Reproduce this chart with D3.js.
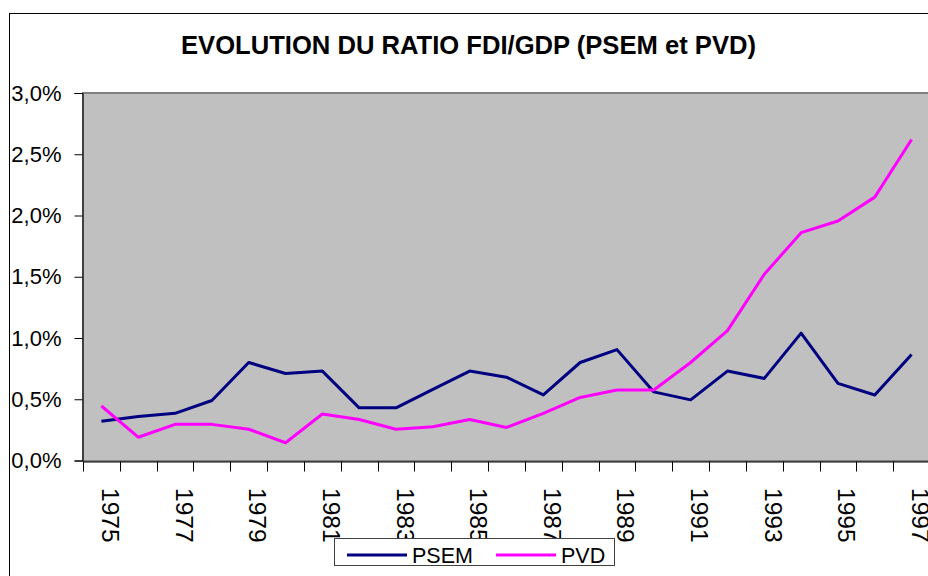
<!DOCTYPE html>
<html>
<head>
<meta charset="utf-8">
<script src="https://cdn.jsdelivr.net/npm/d3@7"></script>
<style>
  body { margin: 0; background: #ffffff; }
  svg { display: block; font-family: Arial, "Liberation Sans", sans-serif; }
</style>
</head>
<body>
<svg id="chart"></svg>
<script>
    'use strict';
    // years shown on the category axis
    var years = ["1975", "1976", "1977", "1978", "1979", "1980", "1981", "1982",
                 "1983", "1984", "1985", "1986", "1987", "1988", "1989", "1990",
                 "1991", "1992", "1993", "1994", "1995", "1996", "1997"];
    // FDI / GDP ratio, in percent
    var psem = [0.32, 0.36, 0.385, 0.49, 0.80, 0.71, 0.73, 0.43, 0.43, 0.58, 0.73, 0.68,
                0.535, 0.80, 0.905, 0.56, 0.495, 0.73, 0.67, 1.04, 0.63, 0.535, 0.865];
    var pvd = [0.445, 0.19, 0.295, 0.295, 0.255, 0.145, 0.38, 0.335, 0.255, 0.275, 0.335, 0.27,
               0.385, 0.515, 0.575, 0.575, 0.80, 1.06, 1.52, 1.86, 1.955, 2.15, 2.62];
    var yTicks = [0, 0.5, 1, 1.5, 2, 2.5, 3];
    var yTickLabels = ["0,0%", "0,5%", "1,0%", "1,5%", "2,0%", "2,5%", "3,0%"];
    var xTickLabels = ["1975", "1977", "1979", "1981", "1983", "1985", "1987",
                       "1989", "1991", "1993", "1995", "1997"];
    var seriesNames = ["PSEM", "PVD"];
    var seriesColors = ["#000080", "#ff00ff"];

    var width = 928;
    var height = 576;
    var plot = {left: 83, top: 93, right: 930, bottom: 461};

    var svg = d3.select("#chart")
            .attr("width", width)
            .attr("height", height);

    // outer chart frame
    svg.append("rect")
        .attr("x", 9.5)
        .attr("y", 13.5)
        .attr("width", 940)
        .attr("height", 600)
        .style("fill", "#ffffff")
        .style("stroke", "#000000")
        .style("stroke-width", 1);

    svg.append("text")
        .attr("x", 468.5)
        .attr("y", 53.5)
        .attr("text-anchor", "middle")
        .style("font-size", "25.6px")
        .style("font-weight", "bold")
        .text("EVOLUTION DU RATIO FDI/GDP (PSEM et PVD)");

    var x = d3.scaleBand()
            .domain(years)
            .range([plot.left, plot.right]);
    var y = d3.scaleLinear()
            .domain([0, 3])
            .range([plot.bottom - 0.5, plot.top]);

    svg.append("rect")
        .attr("x", plot.left)
        .attr("y", plot.top)
        .attr("width", plot.right - plot.left)
        .attr("height", plot.bottom - plot.top)
        .style("fill", "#c0c0c0")
        .style("stroke", "#808080")
        .style("stroke-width", 2);

    // y axis
    var yAxis = d3.axisLeft(y)
            .tickValues(yTicks)
            .tickSize(8)
            .tickPadding(13)
            .tickFormat(function(d, i) { return yTickLabels[i]; });
    var gy = svg.append("g")
            .attr("transform", "translate(" + (plot.left - 0.5) + ",0)")
            .call(yAxis);
    gy.select(".domain").attr("stroke", "#000000");
    gy.selectAll("text")
        .attr("fill", "#000000")
        .style("font-size", "22px")
        .style("font-family", "Arial, 'Liberation Sans', sans-serif");

    // x axis: ticks between categories
    var xAxis = d3.axisBottom(x)
            .tickSize(0)
            .tickFormat("");
    var gx = svg.append("g")
            .attr("transform", "translate(0," + (plot.bottom + 0.5) + ")")
            .call(xAxis);
    gx.select(".domain").attr("stroke", "#000000");
    gx.selectAll(".sep")
        .data(years.concat(["end"]))
        .enter().append("line")
        .attr("class", "sep")
        .attr("x1", function(d, i) { return Math.round(plot.left + i * x.bandwidth()) + 0.5; })
        .attr("x2", function(d, i) { return Math.round(plot.left + i * x.bandwidth()) + 0.5; })
        .attr("y1", 0)
        .attr("y2", 10)
        .attr("stroke", "#000000");

    svg.selectAll(".xlab")
        .data(xTickLabels)
        .enter().append("text")
        .attr("class", "xlab")
        .attr("transform", function(d) {
            return "translate(" + (x(d) + x.bandwidth() / 2 + 0.5) + ",488) rotate(90)";
        })
        .style("font-size", "24.5px")
        .text(function(d) { return d; });

    // lines
    var line = d3.line()
            .x(function(d, i) { return x(years[i]) + x.bandwidth() / 2; })
            .y(function(d) { return y(d); });

    svg.selectAll(".series")
        .data([psem, pvd])
        .enter().append("path")
        .attr("class", "series")
        .attr("d", line)
        .style("fill", "none")
        .style("stroke", function(d, i) { return seriesColors[i]; })
        .style("stroke-width", 3)
        .style("stroke-linejoin", "round");

    // legend
    var legend = svg.append("g");
    legend.append("rect")
        .attr("x", 334.5)
        .attr("y", 538.5)
        .attr("width", 280)
        .attr("height", 27)
        .style("fill", "#ffffff")
        .style("stroke", "#404040")
        .style("stroke-width", 1);

    var legX = [347, 496];
    var item = legend.selectAll(".item")
            .data(seriesNames)
            .enter().append("g")
            .attr("class", "item")
            .attr("transform", function(d, i) { return "translate(" + legX[i] + ",0)"; });
    item.append("line")
        .attr("x1", 0)
        .attr("x2", 60)
        .attr("y1", 555)
        .attr("y2", 555)
        .style("stroke", function(d, i) { return seriesColors[i]; })
        .style("stroke-width", 3);
    item.append("text")
        .attr("x", 65)
        .attr("y", 562.5)
        .style("font-size", "21.5px")
        .text(function(d) { return d; });
</script>
</body>
</html>
